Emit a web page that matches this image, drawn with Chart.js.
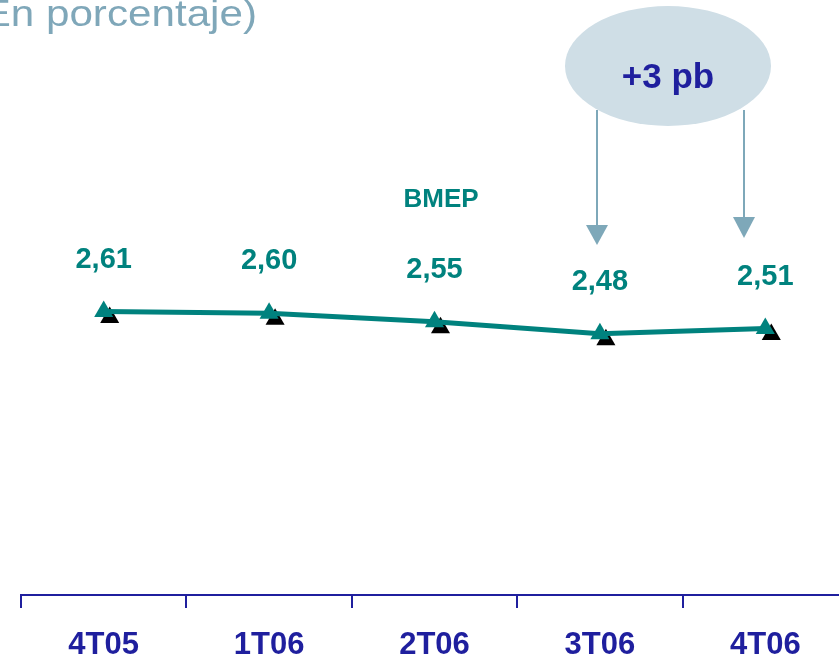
<!DOCTYPE html>
<html>
<head>
<meta charset="utf-8">
<script src="https://cdn.jsdelivr.net/npm/chart.js@4"></script>
<style>
  html, body { margin: 0; padding: 0; background: #fff; overflow: hidden; }
  #frame { position: relative; width: 839px; height: 659px; overflow: hidden; }
  #wrap { position: absolute; left: 0; top: 0; width: 860px; height: 659px; }
  #title {
    position: absolute; right: 582px; top: -5px; white-space: nowrap;
    font: 37px/1 "Liberation Sans", Arial, sans-serif; color: #7fa7b9;
    transform: scaleX(1.14); transform-origin: right center;
  }
</style>
</head>
<body>
<div id="frame">
  <div id="wrap"><canvas id="chart"></canvas></div>
  <div id="title">(En porcentaje)</div>
</div>
<script>
const categories = ["4T05", "1T06", "2T06", "3T06", "4T06"];
const bmep = [2.61, 2.60, 2.55, 2.48, 2.51];
const valueLabels = ["2,61", "2,60", "2,55", "2,48", "2,51"];
const seriesName = "BMEP";
const deltaText = "+3 pb";

const TEAL = "#00827e";
const NAVY = "#1f1f9e";
const FONT = '"Liberation Sans", Arial, sans-serif';

// black shadow triangles: same points, shifted a few px down-right
const shadowShift = {
  id: "shadowShift",
  beforeDatasetDraw(chart, args) {
    if (args.index !== 1) return;
    chart.ctx.save();
    chart.ctx.translate(6, 6);
  },
  afterDatasetDraw(chart, args) {
    if (args.index !== 1) return;
    chart.ctx.restore();
  },
};

const labelsAndNotes = {
  id: "labelsAndNotes",
  afterDatasetsDraw(chart) {
    const ctx = chart.ctx;
    const pts = chart.getDatasetMeta(0).data;
    ctx.save();
    ctx.fillStyle = TEAL;
    ctx.textAlign = "center";
    ctx.textBaseline = "middle";
    ctx.font = "bold 29px " + FONT;
    pts.forEach((p, i) => ctx.fillText(valueLabels[i], p.x, p.y - 52));

    ctx.font = "bold 26px " + FONT;
    ctx.fillText(seriesName, 441, 200);

    // bubble with the change
    ctx.fillStyle = "#cfdee6";
    ctx.beginPath();
    ctx.ellipse(668, 66, 103, 60, 0, 0, Math.PI * 2);
    ctx.fill();
    ctx.fillStyle = NAVY;
    ctx.font = "bold 35px " + FONT;
    ctx.textBaseline = "alphabetic";
    ctx.fillText(deltaText, 668, 88);

    // arrows down to 3T06 and 4T06
    const arrow = (x, y0, yHead, yTip) => {
      ctx.strokeStyle = "#7ea8b9";
      ctx.fillStyle = "#7ea8b9";
      ctx.lineWidth = 2;
      ctx.beginPath();
      ctx.moveTo(x, y0);
      ctx.lineTo(x, yHead + 2);
      ctx.stroke();
      ctx.beginPath();
      ctx.moveTo(x - 11, yHead);
      ctx.lineTo(x + 11, yHead);
      ctx.lineTo(x, yTip);
      ctx.closePath();
      ctx.fill();
    };
    arrow(597, 110, 225, 245);
    arrow(744, 110, 217, 238);
    ctx.restore();
  },
};

new Chart(document.getElementById("chart"), {
  type: "line",
  data: {
    labels: categories,
    datasets: [
      {
        label: seriesName,
        data: bmep,
        borderColor: TEAL,
        borderWidth: 5,
        tension: 0,
        pointStyle: "triangle",
        pointRadius: 11,
        pointBackgroundColor: TEAL,
        pointBorderColor: TEAL,
        pointBorderWidth: 0,
      },
      {
        label: "_shadow",
        data: bmep,
        showLine: false,
        pointStyle: "triangle",
        pointRadius: 11,
        pointBackgroundColor: "#000",
        pointBorderColor: "#000",
        pointBorderWidth: 0,
      },
    ],
  },
  options: {
    responsive: true,
    maintainAspectRatio: false,
    animation: false,
    devicePixelRatio: 1,
    layout: { padding: { left: 21, right: 12, top: 0, bottom: 0 } },
    plugins: { legend: { display: false }, tooltip: { enabled: false } },
    scales: {
      y: { display: false, min: 0.945, max: 4.375 },
      x: {
        offset: true,
        afterFit(scale) { scale.height = 64; },
        grid: {
          offset: true, drawOnChartArea: false, drawTicks: true,
          tickLength: 13, color: NAVY, lineWidth: 2,
        },
        border: { color: NAVY, width: 2 },
        ticks: {
          color: NAVY, padding: 22,
          font: { family: FONT, size: 31, weight: "bold", lineHeight: 1 },
        },
      },
    },
  },
  plugins: [shadowShift, labelsAndNotes],
});
</script>
</body>
</html>
